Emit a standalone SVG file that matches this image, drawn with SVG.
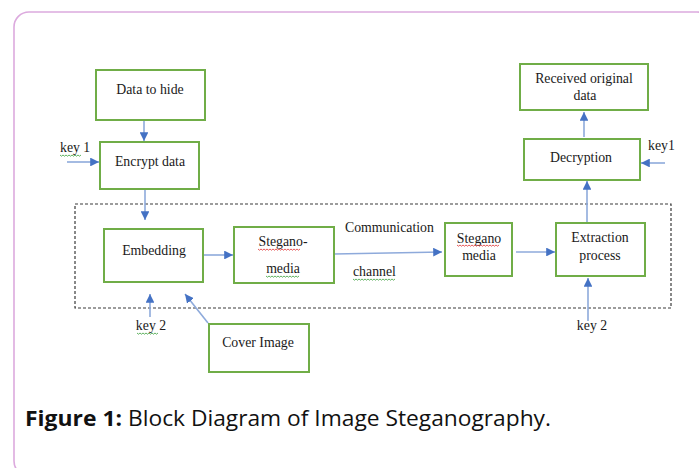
<svg xmlns="http://www.w3.org/2000/svg" width="699" height="468" viewBox="0 0 699 468">
  <style>
    .box { fill: #ffffff; stroke: #70ad47; stroke-width: 2; }
    .lbl { font-family: "Liberation Serif", "Times New Roman", serif; font-size: 13.8px; fill: #1a1a1a; }
    .mid { text-anchor: middle; }
    .wire { stroke: #8eaadb; stroke-width: 1.6; fill: none; }
    .squig-r { stroke: #e03030; stroke-width: 0.8; fill: none; }
    .squig-g { stroke: #3aa03a; stroke-width: 0.8; fill: none; }
    .cap { font-family: "Open Sans", "Noto Sans", sans-serif; font-size: 21px; fill: #111111; }
  </style>
  <defs>
    <marker id="arrow" viewBox="0 0 10 10" refX="10" refY="5" markerWidth="5.5" markerHeight="5.5" orient="auto" markerUnits="strokeWidth">
      <path d="M0,0 L10,5 L0,10 z" fill="#4472c4"/>
    </marker>
  </defs>

  <rect width="699" height="468" fill="#ffffff"/>
  <!-- outer frame -->
  <rect x="14" y="12" width="698" height="464" rx="15" fill="none" stroke="#dcaade" stroke-width="1.6"/>

  <!-- dashed boundary of the embedding / extraction stage -->
  <rect x="75" y="204" width="596" height="104" fill="none" stroke="#3a3a3a" stroke-width="1.2" stroke-dasharray="3 2"/>

  <g id="connectors">
    <line class="wire" x1="144" y1="120" x2="144" y2="141" marker-end="url(#arrow)"/>
    <line class="wire" x1="67" y1="162" x2="99" y2="162" marker-end="url(#arrow)"/>
    <line class="wire" x1="145" y1="189" x2="145" y2="220" marker-end="url(#arrow)"/>
    <line class="wire" x1="203" y1="255" x2="233" y2="255" marker-end="url(#arrow)"/>
    <line class="wire" x1="150" y1="317" x2="150" y2="294" marker-end="url(#arrow)"/>
    <line class="wire" x1="208" y1="323" x2="185" y2="294" marker-end="url(#arrow)"/>
    <line class="wire" x1="334" y1="254" x2="442" y2="252" marker-end="url(#arrow)"/>
    <line class="wire" x1="516" y1="252" x2="555" y2="252" marker-end="url(#arrow)"/>
    <line class="wire" x1="588" y1="321" x2="588" y2="278" marker-end="url(#arrow)"/>
    <line class="wire" x1="587" y1="222" x2="587" y2="181" marker-end="url(#arrow)"/>
    <line class="wire" x1="665" y1="163" x2="641" y2="163" marker-end="url(#arrow)"/>
    <line class="wire" x1="584" y1="137" x2="584" y2="112" marker-end="url(#arrow)"/>
  </g>

  <g id="data-to-hide">
    <rect class="box" x="96" y="70" width="109" height="50"/>
    <text class="lbl mid" x="150" y="94">Data to hide</text>
  </g>
  <g id="encrypt-data">
    <rect class="box" x="100" y="142" width="99" height="47"/>
    <text class="lbl mid" x="150" y="166">Encrypt data</text>
  </g>
  <g id="embedding">
    <rect class="box" x="104" y="229" width="99" height="53"/>
    <text class="lbl mid" x="154" y="255">Embedding</text>
  </g>
  <g id="stegano-media-1">
    <rect class="box" x="234" y="227" width="100" height="56"/>
    <text class="lbl mid" x="283" y="246">Stegano-</text>
    <text class="lbl mid" x="283" y="273">media</text>
  </g>
  <g id="cover-image">
    <rect class="box" x="209" y="324" width="100" height="48"/>
    <text class="lbl mid" x="258" y="347">Cover Image</text>
  </g>
  <g id="stegano-media-2">
    <rect class="box" x="445" y="223" width="67" height="53"/>
    <text class="lbl mid" x="479" y="243">Stegano</text>
    <text class="lbl mid" x="479" y="260">media</text>
  </g>
  <g id="extraction-process">
    <rect class="box" x="556" y="223" width="89" height="53"/>
    <text class="lbl mid" x="600" y="242">Extraction</text>
    <text class="lbl mid" x="600" y="260">process</text>
  </g>
  <g id="decryption">
    <rect class="box" x="524" y="139" width="116" height="41"/>
    <text class="lbl mid" x="581" y="162">Decryption</text>
  </g>
  <g id="received-original-data">
    <rect class="box" x="520" y="64" width="128" height="46"/>
    <text class="lbl mid" x="584" y="83">Received original</text>
    <text class="lbl mid" x="585" y="100">data</text>
  </g>

  <g id="labels">
    <text class="lbl" x="60" y="152">key 1</text>
    <text class="lbl mid" x="151" y="330">key 2</text>
    <text class="lbl" x="345" y="232">Communication</text>
    <text class="lbl" x="353" y="276">channel</text>
    <text class="lbl mid" x="592" y="330">key 2</text>
    <text class="lbl" x="648" y="150">key1</text>
  </g>

  <!-- spell-check underlines -->
  <g id="proofing-marks">
    <path class="squig-g" d="M60,155 l1.5,1.2 l1.5,-1.2 l1.5,1.2 l1.5,-1.2 l1.5,1.2 l1.5,-1.2 l1.5,1.2 l1.5,-1.2 l1.5,1.2 l1.5,-1.2 l1.5,1.2 l1.5,-1.2 l1.5,1.2 l1.5,-1.2"/>
    <path class="squig-g" d="M137,333 l1.5,1.2 l1.5,-1.2 l1.5,1.2 l1.5,-1.2 l1.5,1.2 l1.5,-1.2 l1.5,1.2 l1.5,-1.2 l1.5,1.2 l1.5,-1.2 l1.5,1.2 l1.5,-1.2 l1.5,1.2 l1.5,-1.2"/>
    <path class="squig-r" d="M258,249 l1.5,1.2 l1.5,-1.2 l1.5,1.2 l1.5,-1.2 l1.5,1.2 l1.5,-1.2 l1.5,1.2 l1.5,-1.2 l1.5,1.2 l1.5,-1.2 l1.5,1.2 l1.5,-1.2 l1.5,1.2 l1.5,-1.2 l1.5,1.2 l1.5,-1.2 l1.5,1.2 l1.5,-1.2 l1.5,1.2 l1.5,-1.2 l1.5,1.2 l1.5,-1.2 l1.5,1.2 l1.5,-1.2 l1.5,1.2 l1.5,-1.2 l1.5,1.2 l1.5,-1.2"/>
    <path class="squig-g" d="M266,276 l1.5,1.2 l1.5,-1.2 l1.5,1.2 l1.5,-1.2 l1.5,1.2 l1.5,-1.2 l1.5,1.2 l1.5,-1.2 l1.5,1.2 l1.5,-1.2 l1.5,1.2 l1.5,-1.2 l1.5,1.2 l1.5,-1.2 l1.5,1.2 l1.5,-1.2 l1.5,1.2 l1.5,-1.2 l1.5,1.2 l1.5,-1.2 l1.5,1.2 l1.5,-1.2"/>
    <path class="squig-g" d="M353,279 l1.5,1.2 l1.5,-1.2 l1.5,1.2 l1.5,-1.2 l1.5,1.2 l1.5,-1.2 l1.5,1.2 l1.5,-1.2 l1.5,1.2 l1.5,-1.2 l1.5,1.2 l1.5,-1.2 l1.5,1.2 l1.5,-1.2 l1.5,1.2 l1.5,-1.2 l1.5,1.2 l1.5,-1.2 l1.5,1.2 l1.5,-1.2 l1.5,1.2 l1.5,-1.2 l1.5,1.2 l1.5,-1.2 l1.5,1.2 l1.5,-1.2 l1.5,1.2 l1.5,-1.2"/>
    <path class="squig-r" d="M457,245 l1.5,1.2 l1.5,-1.2 l1.5,1.2 l1.5,-1.2 l1.5,1.2 l1.5,-1.2 l1.5,1.2 l1.5,-1.2 l1.5,1.2 l1.5,-1.2 l1.5,1.2 l1.5,-1.2 l1.5,1.2 l1.5,-1.2 l1.5,1.2 l1.5,-1.2 l1.5,1.2 l1.5,-1.2 l1.5,1.2 l1.5,-1.2 l1.5,1.2 l1.5,-1.2 l1.5,1.2 l1.5,-1.2 l1.5,1.2 l1.5,-1.2 l1.5,1.2 l1.5,-1.2"/>
  </g>

  <!-- figure caption -->
  <text class="cap" x="25" y="426" font-weight="bold" textLength="97" lengthAdjust="spacingAndGlyphs">Figure 1:</text>
  <text class="cap" x="128" y="426" textLength="423" lengthAdjust="spacingAndGlyphs">Block Diagram of Image Steganography.</text>
</svg>
